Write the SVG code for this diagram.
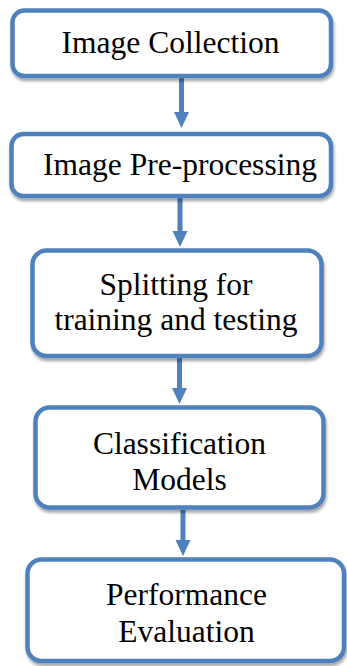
<svg xmlns="http://www.w3.org/2000/svg" width="347" height="666" viewBox="0 0 347 666">
<style>
.box{fill:#ffffff;stroke:#4f81bd;stroke-width:4.5;filter:url(#sh)}
.caption{font-family:"Liberation Serif","Times New Roman",serif;font-size:31.5px;fill:#000000;text-anchor:middle}
.con{stroke:#4f81bd;stroke-width:5;fill:none}
.head{fill:#4f81bd}
</style>
<defs>
<filter id="sh" x="-10%" y="-10%" width="120%" height="130%">
<feGaussianBlur in="SourceAlpha" stdDeviation="1.5"/>
<feOffset dx="1" dy="2.5" result="b"/>
<feComponentTransfer><feFuncA type="linear" slope="0.35"/></feComponentTransfer>
<feMerge><feMergeNode/><feMergeNode in="SourceGraphic"/></feMerge>
</filter>
</defs>
<rect width="347" height="666" fill="#ffffff"/>
<g id="connectors">
<line class="con" x1="181.5" y1="78" x2="181.5" y2="114"/>
<polygon class="head" points="174,112 189,112 181.5,128"/>
<line class="con" x1="180" y1="198" x2="180" y2="233"/>
<polygon class="head" points="172.5,231 187.5,231 180,247"/>
<line class="con" x1="179.5" y1="358" x2="179.5" y2="390"/>
<polygon class="head" points="172,388 187,388 179.5,404"/>
<line class="con" x1="183" y1="510" x2="183" y2="542"/>
<polygon class="head" points="175.5,540 190.5,540 183,556"/>
</g>
<g id="n1">
<rect class="box" x="12.5" y="10.5" width="318.5" height="65.5" rx="12"/>
<text class="caption" x="170.5" y="53">Image Collection</text>
</g>
<g id="n2">
<rect class="box" x="11.5" y="134" width="319.5" height="62" rx="12"/>
<text class="caption" x="180" y="175">Image Pre-processing</text>
</g>
<g id="n3">
<rect class="box" x="32.5" y="250.5" width="289" height="105.5" rx="14"/>
<text class="caption" x="176" y="295">Splitting for</text>
<text class="caption" x="176" y="330">training and testing</text>
</g>
<g id="n4">
<rect class="box" x="35.5" y="407.5" width="288" height="100" rx="14"/>
<text class="caption" x="179.5" y="454">Classification</text>
<text class="caption" x="179.5" y="490">Models</text>
</g>
<g id="n5">
<rect class="box" x="27.5" y="559.5" width="316.5" height="101.5" rx="14"/>
<text class="caption" x="186.5" y="605">Performance</text>
<text class="caption" x="186.5" y="642">Evaluation</text>
</g>
</svg>
